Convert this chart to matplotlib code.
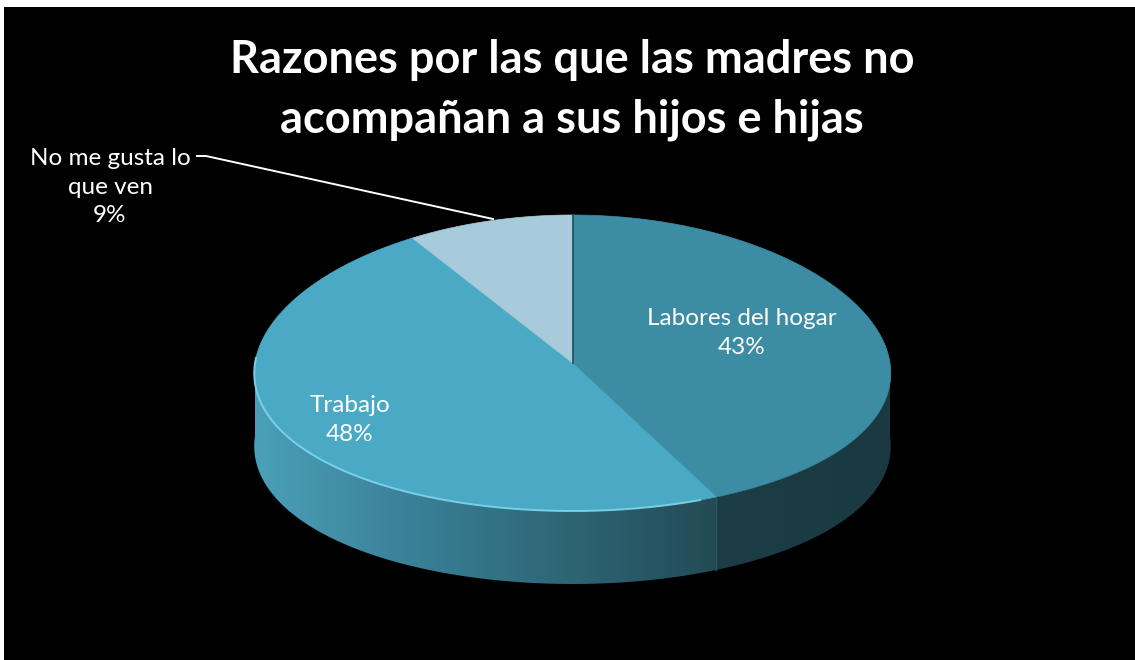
import matplotlib
matplotlib.use('Agg')
import matplotlib.pyplot as plt
from matplotlib.patches import Polygon, Rectangle
import matplotlib.colors as mcolors
import numpy as np

# datos del grafico
labels = ['Labores del hogar', 'Trabajo', 'No me gusta lo\nque ven']
values = [43, 48, 9]
title_lines = ['Razones por las que las madres no', 'acompañan a sus hijos e hijas']

top_colors = ['#3c8ca4', '#4aaac5', '#a7cbda']
side_colors = [('#1d3e47', '#1a3940'), ('#4ba0b9', '#234a55'), ('#7fa3b1', '#6a8f9d')]

plt.rcParams['font.family'] = ['Lato', 'DejaVu Sans']

W, H = 1135, 660
cx, cy = 572.5, 363.0
a, b = 317.5, 148.0
depth = 73.0
persp = 0.07


def ell(theta):
    # angulo en grados, desde arriba y en sentido horario (con algo de perspectiva)
    t = np.radians(theta)
    s = 1 - persp * np.cos(t)
    return cx + a * np.sin(t) * s, cy - b * np.cos(t)


fig = plt.figure(figsize=(W / 100, H / 100), dpi=100, facecolor='white')
ax = fig.add_axes([0, 0, 1, 1])
ax.add_patch(Rectangle((4, 7), W - 4, H - 7, facecolor='black', edgecolor='none', zorder=0.2))

bounds = np.concatenate([[0], np.cumsum(values)]) / sum(values) * 360.0

# caras laterales (solo la mitad frontal es visible), con degradado
for i in range(len(values)):
    s0 = max(bounds[i], 90.0)
    s1 = min(bounds[i + 1], 270.0)
    if s1 <= s0:
        continue
    th = np.linspace(s0, s1, 200)
    px, py = ell(th)
    pts = np.column_stack([np.concatenate([px, px[::-1]]),
                           np.concatenate([py, py[::-1] + depth])])
    poly = Polygon(pts, closed=True, facecolor='none', edgecolor='none')
    ax.add_patch(poly)
    x0, x1 = px.min(), px.max()
    y0, y1 = py.min(), py.max() + depth
    if i == 0:
        cmap = mcolors.LinearSegmentedColormap.from_list('s', [side_colors[i][0], side_colors[i][1]])
    else:
        cmap = mcolors.LinearSegmentedColormap.from_list('s', [side_colors[i][0], '#3a8198',
                                                              '#2e6676', side_colors[i][1]])
    grad = np.linspace(0, 1, 256)[None, :]
    im = ax.imshow(grad, cmap=cmap, extent=(x0 - 1, x1 + 1, y1 + 1, y0 - 1),
                   aspect='auto', interpolation='bilinear', zorder=0.5)
    im.set_clip_path(poly)

# borde divisorio en el lateral
bx, by = ell(bounds[1])
ax.plot([bx, bx], [by, by + depth], color='#2a5561', lw=1.0, zorder=0.6)

# caras superiores
for i in range(len(values)):
    th = np.linspace(bounds[i], bounds[i + 1], 200)
    px, py = ell(th)
    pts = np.column_stack([np.concatenate([[cx], px]), np.concatenate([[cy], py])])
    ax.add_patch(Polygon(pts, closed=True, facecolor=top_colors[i],
                         edgecolor=top_colors[i], lw=0.5))

# linea oscura entre "Labores" y "No me gusta"
ax.plot([cx, cx], [cy, cy - b], color='#1f4f5c', lw=1.2)

# brillo en el borde frontal de "Trabajo"
th = np.linspace(bounds[1] + 3, 272, 200)
px, py = ell(th)
ax.plot(px, py, color='#7ed6ee', lw=1.4, alpha=0.9)

# titulo
ax.text(572, 60, title_lines[0], color='white', fontsize=32.5, fontweight='bold',
        ha='center', va='center')
ax.text(572, 120, title_lines[1], color='white', fontsize=32.5, fontweight='bold',
        ha='center', va='center')

# etiquetas
pct = ['%d%%' % v for v in values]
ax.text(742, 333, labels[0] + '\n' + pct[0], color='white', fontsize=17.5,
        ha='center', va='center', linespacing=1.45)
ax.text(350, 420, labels[1] + '\n' + pct[1], color='white', fontsize=17.5,
        ha='center', va='center', linespacing=1.45)
ax.text(110, 187, labels[2] + '\n' + pct[2], color='white', fontsize=17.5,
        ha='center', va='center', linespacing=1.45)

# linea guia
ax.plot([197, 206, 493], [156, 156, 219], color='white', lw=1.4)

ax.set_xlim(0, W)
ax.set_ylim(H, 0)
ax.axis('off')

fig.savefig('out.png', dpi=100, facecolor=fig.get_facecolor())
